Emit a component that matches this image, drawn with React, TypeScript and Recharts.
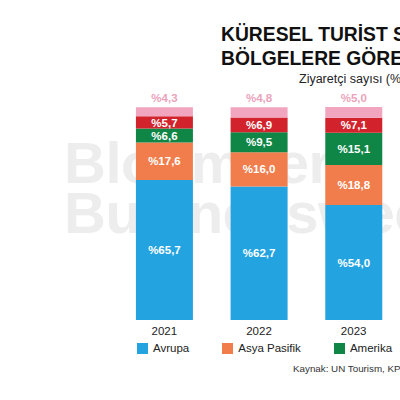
import React from 'react';
import { BarChart, Bar, XAxis, YAxis, LabelList, Legend } from 'recharts';

const years = ['2021', '2022', '2023'];
const avrupa = [65.7, 62.7, 54.0];
const asyaPasifik = [17.6, 16.0, 18.8];
const amerika = [6.6, 9.5, 15.1];
const ortaDogu = [5.7, 6.9, 7.1];
const afrika = [4.3, 4.8, 5.0];

const seriesNames = ['Avrupa', 'Asya Pasifik', 'Amerika', 'Orta Doğu', 'Afrika'];
const seriesKeys = ['avrupa', 'asya', 'amerika', 'ortadogu', 'afrika'];
const colors = ['#23a4e0', '#f07d4b', '#0f8646', '#d2232d', '#f2a5bf'];

const data = years.map((y, i) => ({
  year: y,
  avrupa: avrupa[i],
  asya: asyaPasifik[i],
  amerika: amerika[i],
  ortadogu: ortaDogu[i],
  afrika: afrika[i],
}));

const fmt = (v: any) => '%' + Number(v).toFixed(1).replace('.', ',');
const FONT = '"Liberation Sans", Arial, Helvetica, sans-serif';

const LegendContent = () => (
  <div style={{ display: 'flex', whiteSpace: 'nowrap', fontFamily: FONT, fontSize: 11.5, color: '#222' }}>
    {seriesNames.map((n, i) => (
      <div key={n} style={{ display: 'flex', alignItems: 'center', marginRight: 33 }}>
        <div style={{ width: 11, height: 11, background: colors[i], marginRight: 5 }} />
        <span>{n}</span>
      </div>
    ))}
  </div>
);

export default function App() {
  return (
    <div style={{ position: 'absolute', left: 0, top: 0, width: 400, height: 400, overflow: 'hidden', background: '#fff', fontFamily: FONT }}>
      <div style={{ position: 'absolute', left: 64, top: 138, fontSize: 58, fontWeight: 700, lineHeight: '50px', color: '#ededed', whiteSpace: 'nowrap', letterSpacing: -0.5 }}>
        <div>Bloomberg</div>
        <div>Businessweek</div>
      </div>
      <div style={{ position: 'absolute', left: 221, top: 23, fontSize: 19.3, fontWeight: 700, lineHeight: '24px', color: '#111', whiteSpace: 'nowrap' }}>
        <div>KÜRESEL TURİST SAYISININ</div>
        <div>BÖLGELERE GÖRE DAĞILIMI</div>
      </div>
      <div style={{ position: 'absolute', left: 299, top: 72, fontSize: 12.5, color: '#222', whiteSpace: 'nowrap' }}>
        Ziyaretçi sayısı (%)
      </div>
      <div style={{ position: 'absolute', left: 293, top: 363, fontSize: 9.8, color: '#333', whiteSpace: 'nowrap' }}>
        Kaynak: UN Tourism, KPMG
      </div>
      <div style={{ position: 'absolute', left: 0, top: 0 }}>
        <BarChart
          width={400}
          height={400}
          data={data}
          margin={{ top: 107, right: -1, left: 117, bottom: 60 }}
          barCategoryGap="20%"
        >
          <XAxis
            dataKey="year"
            axisLine={false}
            tickLine={false}
            height={20}
            tickMargin={1}
            tick={{ fontSize: 11.5, fill: '#222', fontFamily: FONT }}
            interval={0}
          />
          <YAxis hide domain={[0, 100]} />
          <Legend
            layout="horizontal"
            verticalAlign="middle"
            align="center"
            wrapperStyle={{ left: 137, top: 342, width: 700 }}
            content={() => <LegendContent />}
          />
          {seriesKeys.map((k, i) => (
            <Bar key={k} dataKey={k} stackId="a" fill={colors[i]} isAnimationActive={false}>
              <LabelList
                dataKey={k}
                position={k === 'afrika' ? 'top' : 'center'}
                formatter={fmt}
                fill={k === 'afrika' ? '#eba3bc' : '#ffffff'}
                style={{ fontSize: 11.5, fontWeight: 700, fontFamily: FONT }}
              />
            </Bar>
          ))}
        </BarChart>
      </div>
    </div>
  );
}
